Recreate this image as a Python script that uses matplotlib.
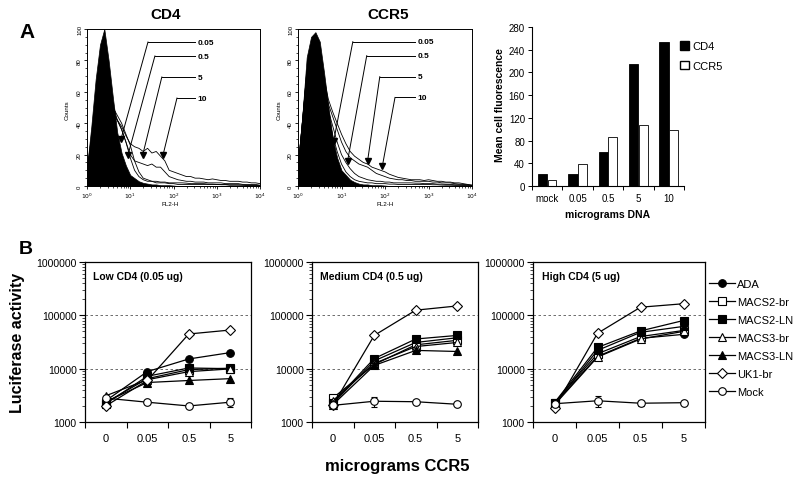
import matplotlib
matplotlib.use('Agg')
import matplotlib.pyplot as plt
import numpy as np
from matplotlib.lines import Line2D
from matplotlib.patches import Patch
from matplotlib.ticker import LogLocator, NullFormatter, MultipleLocator

plt.rcParams['font.family'] = ['Liberation Sans', 'DejaVu Sans']

# ---------------- DATA ----------------
# Flow cytometry histograms (log10 fluorescence channel vs counts)
log_channel = [0.0, 0.1, 0.2, 0.3, 0.4, 0.5, 0.6, 0.7, 0.8, 0.9,
               1.0, 1.1, 1.2, 1.3, 1.4, 1.5, 1.6, 1.7, 1.8, 1.9,
               2.0, 2.1, 2.2, 2.3, 2.4, 2.5, 2.6, 2.7, 2.8, 2.9,
               3.0, 3.1, 3.2, 3.3, 3.4, 3.5, 3.6, 3.7, 3.8, 3.9, 4.0]

cd4_mock = [12, 38, 68, 90, 100, 80, 56, 34, 21, 13, 7, 5, 3, 2, 1.5, 1, 1, 0.5, 0.5, 0.5,
            0.3, 0, 0, 0, 0, 0, 0, 0, 0, 0, 0, 0, 0, 0, 0, 0, 0, 0, 0, 0, 0]
cd4_005 = [10, 30, 55, 75, 80, 68, 52, 42, 36, 28, 18, 10, 6, 4, 3, 3, 2, 2, 2, 1.5,
           1.5, 1, 1, 1, 1, 1, 1, 1, 1, 1, 1, 0.8, 0.8, 0.5, 0.5, 0.5, 0.5, 0.3, 0.3, 0.2, 0.2]
cd4_05 = [9, 28, 52, 70, 76, 64, 50, 45, 40, 33, 26, 16, 9, 5, 4, 3, 3, 2.5, 2.5, 2,
          2, 2, 2, 1.8, 1.5, 1.5, 1.5, 1.5, 1.2, 1.2, 1, 1, 1, 0.8, 0.8, 0.8, 0.6, 0.5, 0.5, 0.4, 0.3]
cd4_5 = [9, 28, 50, 65, 68, 58, 48, 42, 36, 28, 20, 16, 15, 14, 13, 14, 12, 12, 9, 6,
         5, 4, 3.5, 3, 3, 2.5, 2.5, 2.5, 2, 2, 2, 2, 1.5, 1.5, 1.5, 1.5, 1, 1, 1, 1, 0.5]
cd4_10 = [8, 25, 45, 60, 62, 55, 46, 42, 38, 32, 27, 25, 24, 22, 24, 21, 22, 19, 16, 10,
          9, 8, 7, 6, 6, 5, 5, 4.5, 4, 4.5, 4, 3.5, 3.5, 3, 3, 3, 2.5, 2.5, 2, 2, 1.5]

ccr5_mock = [15, 45, 82, 95, 98, 92, 72, 50, 30, 18, 10, 7, 4, 2.5, 1.5, 1, 1, 0.5, 0.5, 0.5,
             0.3, 0, 0, 0, 0, 0, 0, 0, 0, 0, 0, 0, 0, 0, 0, 0, 0, 0, 0, 0, 0]
ccr5_005 = [10, 40, 70, 85, 85, 75, 60, 45, 32, 22, 14, 9, 6, 4, 3, 2.5, 2, 2, 1.5, 1.5,
            1.5, 1.2, 1.2, 1, 1, 1, 1, 1, 1, 1, 1, 0.8, 0.8, 0.6, 0.5, 0.5, 0.4, 0.3, 0.3, 0.2, 0.2]
ccr5_05 = [10, 40, 70, 86, 88, 78, 62, 48, 38, 28, 20, 15, 11, 8, 6, 5, 4, 3.5, 3, 3,
           2.5, 2.5, 2, 2, 2, 2, 2, 1.8, 1.8, 1.5, 1.5, 1.5, 1.2, 1.2, 1, 1, 0.8, 0.8, 0.6, 0.5, 0.4]
ccr5_5 = [10, 40, 72, 88, 90, 80, 65, 52, 44, 36, 28, 22, 18, 16, 14, 13, 12, 10, 8, 7,
          6, 5, 4.5, 4, 4, 3.5, 3.5, 3, 3, 3, 3, 2.5, 2.5, 2, 2, 2, 1.5, 1.2, 1, 0.8, 0.5]
ccr5_10 = [10, 40, 72, 88, 92, 82, 68, 55, 47, 40, 33, 27, 22, 19, 17, 15, 14, 12, 11, 10,
           9, 7.5, 6.5, 5.5, 5, 4.5, 4, 4, 4, 3.5, 4, 3.5, 3, 3, 2.5, 2.5, 2, 2, 1.5, 1, 0.5]

dose_labels = ['0.05', '0.5', '5', '10']

# Mean cell fluorescence bar chart
bar_cats = ['mock', '0.05', '0.5', '5', '10']
cd4_mfi = [22, 22, 59, 214, 254]
ccr5_mfi = [11, 38, 86, 107, 99]

# Luciferase activity
ccr5_doses = ['0', '0.05', '0.5', '5']
virus_names = ['ADA', 'MACS2-br', 'MACS2-LN', 'MACS3-br', 'MACS3-LN', 'UK1-br', 'Mock']

low_cd4 = {'ADA': [2500, 8800, 15200, 20000],
           'MACS2-br': [2300, 6500, 9600, 10200],
           'MACS2-LN': [2200, 7200, 10300, 10000],
           'MACS3-br': [3100, 6200, 8800, 9900],
           'MACS3-LN': [2400, 5500, 6000, 6500],
           'UK1-br': [2000, 6000, 44700, 53000],
           'Mock': [2800, 2350, 2000, 2350]}
med_cd4 = {'ADA': [2200, 14000, 31000, 38000],
           'MACS2-br': [2800, 12000, 28000, 34000],
           'MACS2-LN': [2300, 15500, 36000, 42000],
           'MACS3-br': [2500, 12500, 26000, 31000],
           'MACS3-LN': [2100, 11500, 22000, 21000],
           'UK1-br': [2050, 42000, 125000, 150000],
           'Mock': [2050, 2450, 2400, 2150]}
high_cd4 = {'ADA': [2200, 17000, 37000, 44000],
            'MACS2-br': [2300, 19000, 40000, 52000],
            'MACS2-LN': [2300, 25000, 51000, 80000],
            'MACS3-br': [2100, 16500, 36000, 50000],
            'MACS3-LN': [2200, 22000, 48000, 62000],
            'UK1-br': [1850, 46000, 142000, 165000],
            'Mock': [2200, 2500, 2250, 2300]}
mock_err_low = [0, 150, 0, 450]
mock_err_med = [0, 550, 0, 0]
mock_err_high = [0, 600, 250, 0]
panel_titles = ['Low CD4 (0.05 ug)', 'Medium CD4 (0.5 ug)', 'High CD4 (5 ug)']

# ---------------- STYLE / LAYOUT ----------------
W, H = 800, 481
fig = plt.figure(figsize=(8, 4.81), dpi=100)


def rect(l, t, r, b):
    return [l / W, 1 - b / H, (r - l) / W, (b - t) / H]


def fx(px):
    return px / W


def fy(py):
    return 1 - py / H


markers = {'ADA': ('o', 'black'), 'MACS2-br': ('s', 'white'), 'MACS2-LN': ('s', 'black'),
           'MACS3-br': ('^', 'white'), 'MACS3-LN': ('^', 'black'), 'UK1-br': ('D', 'white'),
           'Mock': ('o', 'white')}
msize = {'o': 5.5, 's': 5.5, '^': 6, 'D': 4.8}

# ---------------- PANEL A: histograms ----------------
def hist_panel(box, mock, curves, arrows, label_x, hline_end):
    ax = fig.add_axes(rect(*box))
    x = 10 ** np.array(log_channel)
    ax.fill_between(x, 0, mock, color='black', lw=0.5, zorder=2)
    for c in curves:
        ax.plot(x, c, color='black', lw=0.6, zorder=3)
    ax.set_xscale('log')
    ax.set_xlim(1, 1e4)
    ax.set_ylim(0, 100)
    ax.set_xticks([1, 10, 100, 1000, 10000])
    ax.set_xticklabels([r'$10^0$', r'$10^1$', r'$10^2$', r'$10^3$', r'$10^4$'])
    ax.xaxis.set_minor_locator(LogLocator(base=10, subs=range(2, 10)))
    ax.xaxis.set_minor_formatter(NullFormatter())
    ax.set_yticks([0, 20, 40, 60, 80, 100])
    ax.yaxis.set_minor_locator(MultipleLocator(5))
    ax.tick_params(axis='both', which='major', labelsize=4.3, length=2.5, width=0.6, pad=1)
    ax.tick_params(axis='both', which='minor', length=1.3, width=0.5)
    for lab in ax.get_yticklabels():
        lab.set_rotation(90)
        lab.set_va('center')
    for s in ax.spines.values():
        s.set_linewidth(0.7)
    for (txt, xs, yh, xt, yt) in arrows:
        ax.plot([10 ** xs, 10 ** hline_end], [yh, yh], color='black', lw=0.7, zorder=4)
        ax.plot([10 ** xs, 10 ** xt], [yh, yt], color='black', lw=0.7, zorder=4)
        ax.plot(10 ** xt, yt, marker='v', ms=4.5, color='black', zorder=5)
        ax.text(10 ** label_x, yh, txt, fontsize=6, fontweight='bold', va='center', ha='left')
    return ax


cd4_arrows = [(dose_labels[0], 1.41, 91.7, 0.785, 29.8), (dose_labels[1], 1.57, 82.8, 0.95, 20),
              (dose_labels[2], 1.73, 69.4, 1.29, 20), (dose_labels[3], 2.08, 56, 1.76, 20)]
ccr5_arrows = [(dose_labels[0], 1.26, 91.9, 0.82, 28.6), (dose_labels[1], 1.58, 83, 1.14, 16),
               (dose_labels[2], 1.88, 69.6, 1.60, 16), (dose_labels[3], 2.23, 56.4, 1.94, 12.8)]

hist_panel((87, 30, 260, 187), cd4_mock, [cd4_005, cd4_05, cd4_5, cd4_10], cd4_arrows, 2.55, 2.49)
hist_panel((298, 30, 472, 187), ccr5_mock, [ccr5_005, ccr5_05, ccr5_5, ccr5_10], ccr5_arrows, 2.75, 2.69)

fig.text(fx(166), fy(15), 'CD4', fontsize=11, fontweight='bold', ha='center', va='center')
fig.text(fx(388), fy(15), 'CCR5', fontsize=11, fontweight='bold', ha='center', va='center')
fig.text(fx(67), fy(110), 'Counts', fontsize=4.5, rotation=90, ha='center', va='center')
fig.text(fx(279), fy(110), 'Counts', fontsize=4.5, rotation=90, ha='center', va='center')
fig.text(fx(170), fy(204), 'FL2-H', fontsize=4.5, ha='center', va='center')
fig.text(fx(385), fy(204), 'FL2-H', fontsize=4.5, ha='center', va='center')
fig.text(fx(27), fy(33), 'A', fontsize=15, fontweight='bold', ha='center', va='center')

# ---------------- PANEL A: bar chart ----------------
axb = fig.add_axes(rect(532, 28, 684, 187))
xb = np.arange(len(bar_cats))
axb.bar(xb - 0.155, cd4_mfi, width=0.31, color='black', edgecolor='black', lw=0.6)
axb.bar(xb + 0.155, ccr5_mfi, width=0.29, color='white', edgecolor='black', lw=0.6)
axb.set_xlim(-0.5, len(bar_cats) - 0.5)
axb.set_ylim(0, 280)
axb.set_yticks(range(0, 281, 40))
axb.set_xticks(np.arange(-0.5, len(bar_cats), 1.0))
axb.set_xticklabels([])
axb.set_xticks(xb, minor=True)
axb.set_xticklabels(bar_cats, minor=True)
axb.tick_params(axis='x', which='minor', length=0, pad=5, labelsize=7)
axb.tick_params(axis='x', which='major', length=3, width=0.7)
axb.tick_params(axis='y', labelsize=7, length=3, width=0.7, pad=2)
axb.spines['top'].set_visible(False)
axb.spines['right'].set_visible(False)
for s in ['left', 'bottom']:
    axb.spines[s].set_linewidth(0.8)
fig.text(fx(608), fy(215), 'micrograms DNA', fontsize=7.5, fontweight='bold', ha='center', va='center')
fig.text(fx(500), fy(105), 'Mean cell fluorescence', fontsize=7.5, fontweight='bold',
         rotation=90, ha='center', va='center')
fig.legend(handles=[Patch(facecolor='black', edgecolor='black', label='CD4'),
                    Patch(facecolor='white', edgecolor='black', label='CCR5')],
           loc='upper left', bbox_to_anchor=(fx(680), fy(42)), frameon=False, fontsize=8,
           handlelength=0.8, handleheight=0.8, handletextpad=0.3, labelspacing=0.85,
           borderpad=0, borderaxespad=0)

# ---------------- PANEL B ----------------
boxes = [(85, 263, 251, 423), (312, 263, 478, 423), (533, 263, 705, 423)]
panels = [low_cd4, med_cd4, high_cd4]
mock_errs = [mock_err_low, mock_err_med, mock_err_high]
xp = np.arange(len(ccr5_doses))
for box, data, merr, title in zip(boxes, panels, mock_errs, panel_titles):
    ax = fig.add_axes(rect(*box))
    for name in virus_names:
        m, fc = markers[name]
        yerr = merr if name == 'Mock' else None
        ax.errorbar(xp, data[name], yerr=yerr, color='black', lw=0.9, marker=m, mfc=fc,
                    mec='black', mew=0.8, ms=msize[m], capsize=2.5, elinewidth=0.8, zorder=3)
    ax.set_yscale('log')
    ax.set_ylim(1000, 1e6)
    ax.set_yticks([1e3, 1e4, 1e5, 1e6])
    ax.set_yticklabels(['1000', '10000', '100000', '1000000'])
    ax.yaxis.set_minor_locator(LogLocator(base=10, subs=range(2, 10)))
    ax.yaxis.set_minor_formatter(NullFormatter())
    ax.tick_params(axis='y', which='major', length=4, width=0.8, labelsize=7.5, pad=2)
    ax.tick_params(axis='y', which='minor', length=2, width=0.5)
    ax.set_xlim(-0.5, len(ccr5_doses) - 0.5)
    ax.set_xticks(np.arange(-0.5, len(ccr5_doses), 1.0))
    ax.set_xticklabels([])
    ax.set_xticks(xp, minor=True)
    ax.set_xticklabels(ccr5_doses, minor=True)
    ax.tick_params(axis='x', which='minor', length=0, pad=8, labelsize=8)
    ax.tick_params(axis='x', which='major', length=4, width=0.8)
    for yv in [1e4, 1e5]:
        ax.axhline(yv, ls=(0, (3, 3)), color='#555555', lw=0.6, zorder=1)
    for s in ax.spines.values():
        s.set_linewidth(0.9)
    ax.text(0.05, 0.91, title, transform=ax.transAxes, fontsize=7.5, fontweight='bold',
            ha='left', va='center')

handles = []
for name in virus_names:
    m, fc = markers[name]
    handles.append(Line2D([0], [0], color='black', lw=0.9, marker=m, mfc=fc, mec='black',
                          mew=0.8, ms=msize[m], label=name))
fig.legend(handles=handles, loc='upper left', bbox_to_anchor=(fx(709), fy(280)), frameon=False,
           fontsize=8, handlelength=2.3, handletextpad=0.2, labelspacing=0.72, numpoints=1,
           borderpad=0, borderaxespad=0)

fig.text(fx(18), fy(343), 'Luciferase activity', fontsize=11.5, fontweight='bold', rotation=90,
         ha='center', va='center')
fig.text(fx(397), fy(467), 'micrograms CCR5', fontsize=12, fontweight='bold', ha='center', va='center')
fig.text(fx(26), fy(250), 'B', fontsize=14, fontweight='bold', ha='center', va='center')

fig.savefig('out.png', dpi=100)
